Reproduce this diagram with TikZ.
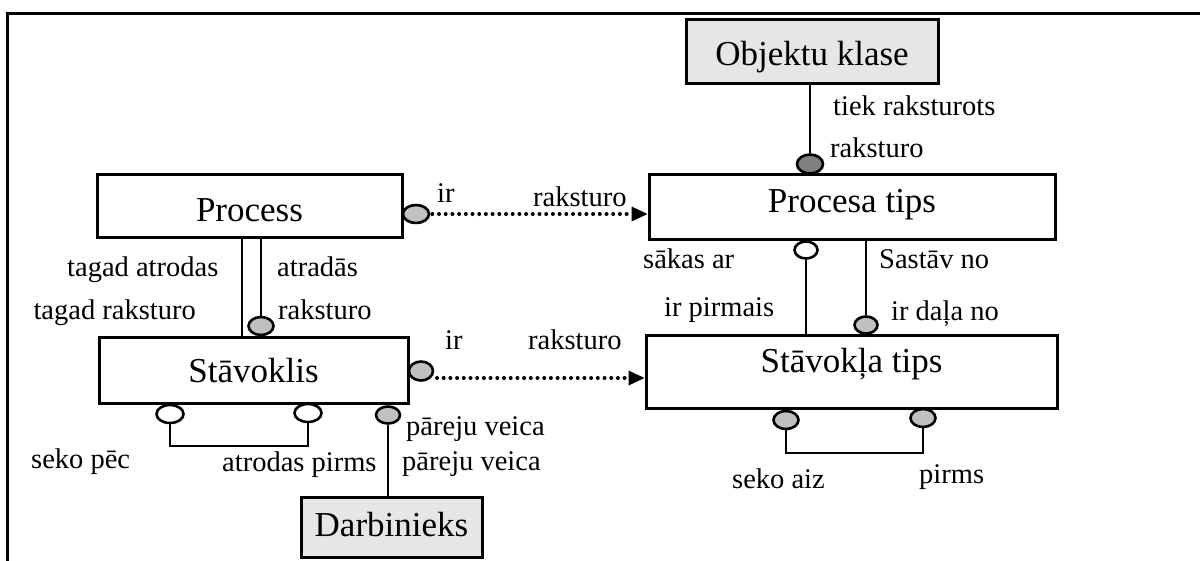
\documentclass[tikz,border=0pt]{standalone}
\usepackage{fontspec}
\setmainfont{Liberation Serif}
\usetikzlibrary{shapes.geometric,arrows.meta,backgrounds}
\definecolor{boxgray}{HTML}{E6E6E6}
\definecolor{dotgray}{HTML}{C0C0C0}
\definecolor{darkdot}{HTML}{808080}
\newcommand\boxfont{\fontsize{35}{40}\selectfont}
\newcommand\lblfont{\fontsize{28.5}{32}\selectfont}
\begin{document}
\begin{tikzpicture}[x=1pt,y=-1pt,
  entity/.style={draw, line width=3pt, fill=white, inner sep=0pt,
    font=\boxfont, text depth=0pt},
  shadedentity/.style={entity, fill=boxgray},
  knob/.style={ellipse, draw, line width=2.6pt, inner sep=0pt,
    minimum width=25pt, minimum height=18pt},
  openknob/.style={knob, fill=white},
  greyknob/.style={knob, fill=dotgray},
  darkknob/.style={knob, fill=darkdot},
  link/.style={line width=2.5pt},
  dotlink/.style={line width=4pt, line cap=round, dash pattern=on 0pt off 6.7pt,
    -{Triangle[length=16pt,width=15pt,line width=0pt]}},
  lbl/.style={font=\lblfont, inner sep=0pt, anchor=base west}]

\clip (0,0) rectangle (1200,560);
% outer frame, running past the page edge on the right and at the bottom
\draw[line width=3pt] (7,13) rectangle (1240,600);

% entities
\node[entity, minimum width=305pt, minimum height=63pt, text height=31pt] (proc) at (249.5,205.5) {Process};
\node[shadedentity, minimum width=252pt, minimum height=64pt, text height=28pt] (okl) at (812,51) {Objektu klase};
\node[entity, minimum width=406pt, minimum height=65pt, text height=11pt] (ptips) at (852,206.5) {Procesa tips};
\node[entity, minimum width=309pt, minimum height=66pt, text height=24pt] (stav) at (253.5,370) {Stāvoklis};
\node[entity, minimum width=411pt, minimum height=73pt, text height=1pt] (stips) at (851.5,371.5) {Stāvokļa tips};
\node[shadedentity, minimum width=181pt, minimum height=60pt, text height=18pt] (darb) at (391.5,527) {Darbinieks};

% relationship ends
\node[darkknob, minimum width=26pt, minimum height=19pt] (okk) at (810,164) {};
\node[greyknob, minimum width=26pt] (pk) at (416,214) {};
\node[greyknob] (psk) at (261,326) {};
\node[openknob, minimum width=23pt, minimum height=17pt] (ptk) at (806,250) {};
\node[greyknob, minimum width=23pt, minimum height=17pt] (stk) at (866,325) {};
\node[greyknob, minimum width=24pt, minimum height=19pt] (sk) at (421,371) {};
\node[openknob, minimum width=27pt] (sa) at (170,414) {};
\node[openknob, minimum width=27pt] (sb) at (308,413) {};
\node[greyknob, minimum width=24pt, minimum height=17pt] (sc) at (388,415) {};
\node[greyknob] (ta) at (786,420) {};
\node[greyknob] (tb) at (923,418) {};

\coordinate (pl) at (242,0);
\coordinate (sd) at (437,378);

\begin{scope}[on background layer]
  \draw[link] (okk |- okl.south) -- (okk);
  \draw[link] (pl |- proc.south) -- (pl |- stav.north);
  \draw[link] (psk |- proc.south) -- (psk);
  \draw[link] (ptk) -- (ptk |- stips.north);
  \draw[link] (stk |- ptips.south) -- (stk);
  \draw[link] (sa) -- (sa |- 0,446) -| (sb);
  \draw[link] (sc) -- (sc |- darb.north);
  \draw[link] (ta) -- (ta |- 0,453) -| (tb);
\end{scope}

\draw[dotlink] ([xshift=2pt]pk.east) -- (pk.east -| ptips.west);
\draw[dotlink] (sd) -- (sd -| stips.west);

% role labels
\node[lbl] (l1) at (833,115) {tiek raksturots};
\node[lbl] (l2) at (830,157) {raksturo};
\node[lbl] (l3) at (437,202) {ir};
\node[lbl] (l4) at (533,206) {raksturo};
\node[lbl] (l5) at (67,276) {tagad atrodas};
\node[lbl] (l6) at (277,276) {atradās};
\node[lbl, anchor=base east] (l7) at (196,319) {tagad raksturo};
\node[lbl] (l8) at (278,319) {raksturo};
\node[lbl] (l9) at (643,268) {sākas ar};
\node[lbl] (l10) at (879,268) {Sastāv no};
\node[lbl] (l11) at (664,316) {ir pirmais};
\node[lbl] (l12) at (891,320) {ir daļa no};
\node[lbl] (l13) at (445,349) {ir};
\node[lbl] (l14) at (528,349) {raksturo};
\node[lbl] (l15) at (406,435) {pāreju veica};
\node[lbl] (l16) at (31,468) {seko pēc};
\node[lbl] (l17) at (222,471) {atrodas pirms};
\node[lbl] (l18) at (402,470) {pāreju veica};
\node[lbl] (l19) at (732,488) {seko aiz};
\node[lbl] (l20) at (919,483) {pirms};
\end{tikzpicture}
\end{document}
